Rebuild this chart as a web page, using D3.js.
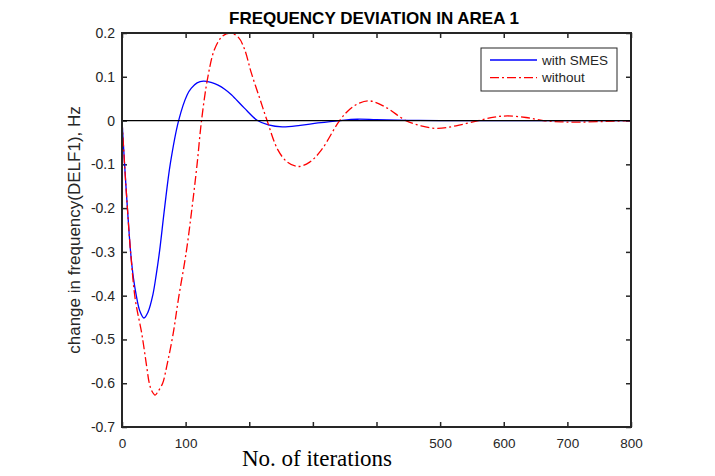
<!DOCTYPE html>
<html>
<head>
<meta charset="utf-8">
<script src="https://cdn.jsdelivr.net/npm/d3@7"></script>
<style>
body { margin: 0; background: #fff; }
</style>
</head>
<body>
<div id="chart"></div>
<script>
const WIDTH = 715, HEIGHT = 476;
const LEFT = 122, RIGHT = 631, TOP = 33, BOTTOM = 427;
const SANS = "Liberation Sans, Arial, Helvetica, sans-serif";
const SERIF = "Liberation Serif, Times New Roman, serif";

// with SMES (blue, solid)
const smesIter = [0, 4, 8.5, 13.5, 18, 22.5, 28, 34.5, 41, 48.5, 54, 59, 67, 76, 89, 102.5, 109, 118, 128, 140, 151, 162, 172, 192, 213, 230, 252, 280, 308, 342, 370, 400, 450, 500, 600, 700, 800];
const smesValue = [0, -0.098, -0.2, -0.3, -0.36, -0.4, -0.435, -0.451, -0.437, -0.398, -0.35, -0.299, -0.199, -0.098, 0, 0.059, 0.074, 0.086, 0.09, 0.087, 0.081, 0.071, 0.059, 0.029, 0, -0.01, -0.0145, -0.011, -0.0055, 0, 0.003, 0.002, 0.0005, 0, 0, 0, 0];

// without (red, dash-dot)
const withoutIter = [0, 4, 8.5, 13.5, 21, 31, 38.8, 42.9, 47, 52, 57, 63.9, 70.2, 80.5, 88.4, 101, 110, 118, 125, 135, 145.5, 158, 170.5, 183, 192.6, 203, 216.6, 228, 245, 260, 277, 295, 313.5, 342, 358, 373, 389, 415, 446, 470, 496, 525, 560, 585, 606, 635, 662, 690, 720, 760, 800];
const withoutValue = [0, -0.1, -0.2, -0.3, -0.41, -0.486, -0.562, -0.6, -0.618, -0.627, -0.618, -0.6, -0.562, -0.486, -0.41, -0.3, -0.2, -0.1, 0, 0.1, 0.163, 0.193, 0.2, 0.19, 0.163, 0.11, 0.05, 0, -0.067, -0.095, -0.105, -0.095, -0.067, 0, 0.026, 0.04, 0.045, 0.03, 0, -0.012, -0.018, -0.012, 0, 0.008, 0.0105, 0.007, 0, -0.003, -0.0035, -0.002, 0];

const xTicks = [0, 100, 200, 300, 400, 500, 600, 700, 800];
const xTickLabels = [0, 100, 500, 600, 700, 800]; // 200-400 are hidden in the original
const yTicks = [0.2, 0.1, 0, -0.1, -0.2, -0.3, -0.4, -0.5, -0.6, -0.7];

const seriesNames = ["with SMES", "without"];

var svg = d3.select("#chart").append("svg")
    .attr("width", WIDTH)
    .attr("height", HEIGHT);

var xScale = d3.scaleLinear().domain([0, 800]).range([LEFT, RIGHT]);
var yScale = d3.scaleLinear().domain([-0.7, 0.2]).range([BOTTOM, TOP]);

var fmtY = function (d) { return String(+d.toFixed(1)); };

// axes, ticks pointing inward like matlab
var xAxis = d3.axisBottom(xScale).tickValues(xTicks)
    .tickSizeInner(-5).tickSizeOuter(0).tickPadding(11)
    .tickFormat(function (d) { return xTickLabels.indexOf(d) >= 0 ? d : ""; });
var xAxisTop = d3.axisTop(xScale).tickValues(xTicks)
    .tickSizeInner(-5).tickSizeOuter(0).tickFormat("");
var yAxis = d3.axisLeft(yScale).tickValues(yTicks)
    .tickSizeInner(-5).tickSizeOuter(0).tickPadding(7).tickFormat(fmtY);
var yAxisRight = d3.axisRight(yScale).tickValues(yTicks)
    .tickSizeInner(-5).tickSizeOuter(0).tickFormat("");

var gx = svg.append("g").attr("transform", "translate(0," + BOTTOM + ")").call(xAxis);
svg.append("g").attr("transform", "translate(0," + TOP + ")").call(xAxisTop);
var gy = svg.append("g").attr("transform", "translate(" + LEFT + ",0)").call(yAxis);
svg.append("g").attr("transform", "translate(" + RIGHT + ",0)").call(yAxisRight);

svg.selectAll(".domain").remove();
svg.selectAll(".tick line").attr("stroke", "#262626").attr("stroke-width", 1.5);
gx.selectAll(".tick text")
    .style("font-family", SANS).style("font-size", "13.5px").style("fill", "#262626");
gy.selectAll(".tick text")
    .style("font-family", SANS).style("font-size", "14px").style("fill", "#262626");

// lines
var line = d3.line()
    .x(function (d) { return xScale(d[0]); })
    .y(function (d) { return yScale(d[1]); })
    .curve(d3.curveCatmullRom.alpha(0.5));

var smesData = d3.zip(smesIter, smesValue);
var withoutData = d3.zip(withoutIter, withoutValue);

svg.append("path")
    .attr("d", line(smesData))
    .attr("fill", "none")
    .attr("stroke", "#0000ff")
    .attr("stroke-width", 1.3);

svg.append("path")
    .attr("d", line(withoutData))
    .attr("fill", "none")
    .attr("stroke", "#ff0000")
    .attr("stroke-width", 1.3)
    .attr("stroke-dasharray", "9,3,2,3");

// zero line
svg.append("line")
    .attr("x1", xScale(0)).attr("x2", xScale(800))
    .attr("y1", yScale(0)).attr("y2", yScale(0))
    .attr("stroke", "#000").attr("stroke-width", 1.3);

// box
svg.append("rect")
    .attr("x", LEFT).attr("y", TOP)
    .attr("width", RIGHT - LEFT).attr("height", BOTTOM - TOP)
    .attr("fill", "none").attr("stroke", "#262626").attr("stroke-width", 2);

// legend
var legend = svg.append("g").attr("transform", "translate(481,48)");
legend.append("rect")
    .attr("width", 136).attr("height", 43)
    .attr("fill", "#fff").attr("stroke", "#262626").attr("stroke-width", 1);
var legendStyles = [
    { color: "#0000ff", dash: null },
    { color: "#ff0000", dash: "9,3,2,3" }
];
seriesNames.forEach(function (name, i) {
    var y = 12 + i * 17.7;
    legend.append("line")
        .attr("x1", 9).attr("x2", 56).attr("y1", y).attr("y2", y)
        .attr("stroke", legendStyles[i].color).attr("stroke-width", 1.3)
        .attr("stroke-dasharray", legendStyles[i].dash);
    legend.append("text")
        .attr("x", 61).attr("y", y).attr("dy", "0.35em")
        .style("font-family", SANS).style("font-size", "13.5px").style("fill", "#262626")
        .text(name);
});

// title and labels
svg.append("text")
    .attr("x", 374).attr("y", 24)
    .attr("text-anchor", "middle")
    .style("font-family", SANS).style("font-size", "17px").style("font-weight", "bold")
    .style("fill", "#000")
    .text("FREQUENCY DEVIATION IN AREA 1");

svg.append("text")
    .attr("transform", "translate(80,230) rotate(-90)")
    .attr("text-anchor", "middle")
    .style("font-family", SANS).style("font-size", "17px").style("fill", "#262626")
    .text("change in frequency(DELF1), Hz");

svg.append("text")
    .attr("x", 317).attr("y", 466)
    .attr("text-anchor", "middle")
    .style("font-family", SERIF).style("font-size", "23px").style("fill", "#000")
    .text("No. of iterations");
</script>
</body>
</html>
